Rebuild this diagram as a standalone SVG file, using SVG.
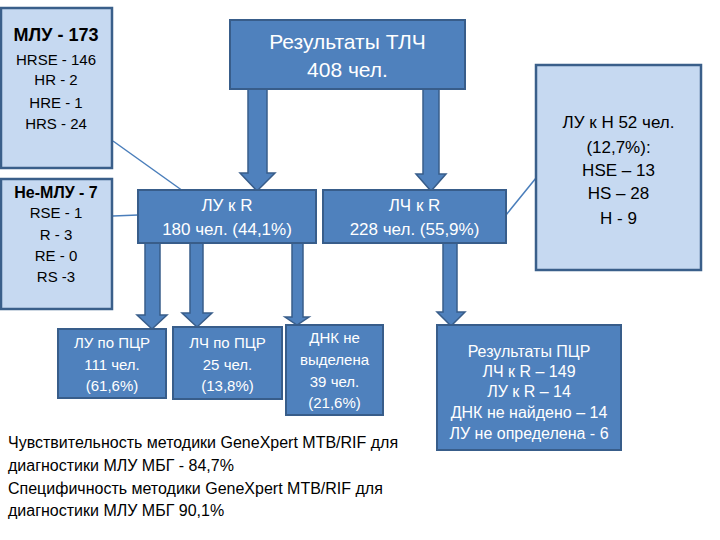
<svg xmlns="http://www.w3.org/2000/svg" width="720" height="540" viewBox="0 0 720 540">
<style>
.dark{fill:#4F81BD;stroke:#385D8A;stroke-width:2}
.light{fill:#C6D9F1;stroke:#3A5F8A;stroke-width:2.5}
.arrow{fill:#4F81BD;stroke:#385D8A;stroke-width:1.5}
.line{stroke:#4A7EBB;stroke-width:1.5;fill:none}
text{font-family:"Liberation Sans",Arial,sans-serif}
.w{fill:#FFFFFF;text-anchor:middle}
.k{fill:#000000;text-anchor:middle}
.note{fill:#000000;font-size:16px}
</style>
<rect width="720" height="540" fill="#FFFFFF"/>
<g id="connectors">
<line class="line" x1="113" y1="141" x2="183" y2="191"/>
<line class="line" x1="113" y1="216" x2="138" y2="215"/>
<line class="line" x1="506" y1="215" x2="536" y2="178"/>
<polygon class="arrow" points="248,89 267,89 267,173 275,173 257,191 240,173 248,173"/>
<polygon class="arrow" points="423,89 439,89 439,174 446,174 431,191 416,174 423,174"/>
<polygon class="arrow" points="145,243 160,243 160,315 167,315 152,329 137,315 145,315"/>
<polygon class="arrow" points="190,243 203,243 203,313 212,313 197,327 182,313 190,313"/>
<polygon class="arrow" points="292,243 303,243 303,317 309,317 297,325 285,317 292,317"/>
<polygon class="arrow" points="443,243 457,243 457,312 465,312 451,326 437,312 443,312"/>
</g>
<g id="mlu">
<rect class="light" x="1" y="8" width="111" height="160"/>
<text class="k" x="56" y="41" font-size="18" font-weight="bold">МЛУ - 173</text>
<text class="k" x="56" y="65" font-size="15">HRSE - 146</text>
<text class="k" x="56" y="85" font-size="15">HR - 2</text>
<text class="k" x="56" y="108" font-size="15">HRE - 1</text>
<text class="k" x="56" y="129" font-size="15">HRS - 24</text>
</g>
<g id="nemlu">
<rect class="light" x="1" y="179" width="111" height="130"/>
<text class="k" x="56" y="198" font-size="16" font-weight="bold">Не-МЛУ - 7</text>
<text class="k" x="56" y="218" font-size="15">RSE - 1</text>
<text class="k" x="56" y="240" font-size="15">R - 3</text>
<text class="k" x="56" y="261" font-size="15">RE - 0</text>
<text class="k" x="56" y="282" font-size="15">RS -3</text>
</g>
<g id="tlc">
<rect class="dark" x="230" y="20" width="235" height="69"/>
<text class="w" x="347.5" y="49" font-size="21">Результаты ТЛЧ</text>
<text class="w" x="347.5" y="77" font-size="21">408 чел.</text>
</g>
<g id="lu-r">
<rect class="dark" x="138" y="190" width="178" height="53"/>
<text class="w" x="227" y="211" font-size="17">ЛУ к R</text>
<text class="w" x="227" y="235" font-size="17">180 чел. (44,1%)</text>
</g>
<g id="lch-r">
<rect class="dark" x="323" y="190" width="183" height="53"/>
<text class="w" x="414.5" y="211" font-size="17">ЛЧ к R</text>
<text class="w" x="414.5" y="235" font-size="17">228 чел. (55,9%)</text>
</g>
<g id="lu-h">
<rect class="light" x="536" y="65" width="165" height="205"/>
<text class="k" x="618.5" y="128" font-size="17">ЛУ к Н 52 чел.</text>
<text class="k" x="618.5" y="153" font-size="17">(12,7%):</text>
<text class="k" x="618.5" y="176" font-size="17">HSE – 13</text>
<text class="k" x="618.5" y="199" font-size="17">HS – 28</text>
<text class="k" x="618.5" y="224" font-size="17">H - 9</text>
</g>
<g id="lu-pcr">
<rect class="dark" x="58" y="329" width="108" height="69"/>
<text class="w" x="112" y="348" font-size="15">ЛУ по ПЦР</text>
<text class="w" x="112" y="370" font-size="15">111 чел.</text>
<text class="w" x="112" y="391" font-size="15">(61,6%)</text>
</g>
<g id="lch-pcr">
<rect class="dark" x="173" y="327" width="109" height="72"/>
<text class="w" x="227.5" y="348" font-size="15">ЛЧ по ПЦР</text>
<text class="w" x="227.5" y="370" font-size="15">25 чел.</text>
<text class="w" x="227.5" y="391" font-size="15">(13,8%)</text>
</g>
<g id="dnk">
<rect class="dark" x="286" y="325" width="97" height="90"/>
<text class="w" x="334.5" y="343" font-size="15">ДНК не</text>
<text class="w" x="334.5" y="365" font-size="15">выделена</text>
<text class="w" x="334.5" y="387" font-size="15">39 чел.</text>
<text class="w" x="334.5" y="408" font-size="15">(21,6%)</text>
</g>
<g id="pcr-results">
<rect class="dark" x="437" y="325" width="184" height="125"/>
<text class="w" x="529" y="357" font-size="16">Результаты ПЦР</text>
<text class="w" x="529" y="377" font-size="16">ЛЧ к R – 149</text>
<text class="w" x="529" y="397" font-size="16">ЛУ к R – 14</text>
<text class="w" x="529" y="418" font-size="16">ДНК не найдено – 14</text>
<text class="w" x="529" y="439" font-size="16">ЛУ не определена - 6</text>
</g>
<g id="note">
<text class="note" x="8" y="448">Чувствительность методики GeneXpert MTB/RIF для</text>
<text class="note" x="8" y="471">диагностики МЛУ МБГ - 84,7%</text>
<text class="note" x="8" y="494">Специфичность методики GeneXpert MTB/RIF для</text>
<text class="note" x="8" y="516">диагностики МЛУ МБГ 90,1%</text>
</g>
</svg>
